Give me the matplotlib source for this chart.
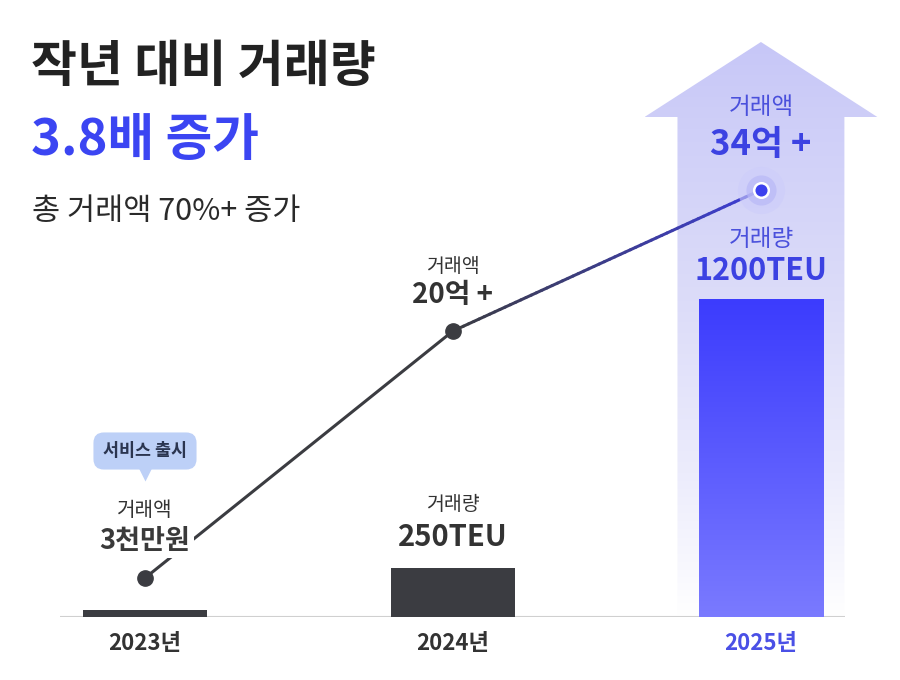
import numpy as np
import matplotlib.pyplot as plt
from matplotlib.colors import LinearSegmentedColormap, to_rgb
from matplotlib.collections import LineCollection
from matplotlib.patches import Polygon

plt.rcParams['font.family'] = ['Noto Sans CJK KR', 'DejaVu Sans']

# --- data (display heights, baseline = 0) ---
years = ['2023년', '2024년', '2025년']
bar_height = [7, 49, 318]            # 거래량 bars
line_height = [39, 286, 427]         # 거래액 line points
amount_labels = ['3천만원', '20억 +', '34억 +']
volume_labels = [None, '250TEU', '1200TEU']

DARK = '#3b3c41'
BLUE = '#3c41ee'
TEXT = '#333333'

fig = plt.figure(figsize=(9, 6.8), dpi=100)
fig.patch.set_facecolor('white')

# axes span the full width; 1 y-unit = 1 px, baseline at 63 px from bottom
ax = fig.add_axes([0, 63 / 680, 1, 587 / 680])
x = np.arange(len(years))
x_left, x_right = -0.276, 2.273   # ends of the baseline

# big arrow behind 2025
cx = x[2]
body, head, shoulder, tip = 0.271, 0.378, 500, 575
arrow = Polygon([(cx - body, 0), (cx - body, shoulder), (cx - head, shoulder), (cx, tip),
                 (cx + head, shoulder), (cx + body, shoulder), (cx + body, 0)],
                closed=True, fc='none', ec='none')
ax.add_patch(arrow)
arrow_cmap = LinearSegmentedColormap.from_list(
    'arrow', [(0, '#ffffff'), (0.08, '#f8f8fe'), (0.25, '#ececfc'),
              (0.55, '#dcdcf9'), (0.85, '#cfcff8'), (1, '#c7c7f7')])
grad = np.linspace(0, 1, 256).reshape(-1, 1)
im = ax.imshow(grad, cmap=arrow_cmap, origin='lower', aspect='auto',
               extent=[cx - head, cx + head, 0, tip], zorder=0)
im.set_clip_path(arrow)

# bars
bars = ax.bar(x, bar_height, width=0.405, color=[DARK, DARK, 'none'], zorder=2)
bar_cmap = LinearSegmentedColormap.from_list('bar', ['#7a7aff', '#3c3cfd'])
im2 = ax.imshow(grad, cmap=bar_cmap, origin='lower', aspect='auto',
                extent=[cx - 0.2025, cx + 0.2025, 0, bar_height[2]], zorder=2)
im2.set_clip_path(bars[2])

# baseline
ax.hlines(0, x_left, x_right, color='#d0d0d0', lw=1.5, zorder=1)

# line: first segment dark, second one fading dark -> blue
ax.plot(x[:2], line_height[:2], color=DARK, lw=2.2, zorder=3, solid_capstyle='round')
t = np.linspace(0, 1, 60)
px = x[1] + (x[2] - x[1]) * t
py = line_height[1] + (line_height[2] - line_height[1]) * t
segs = np.stack([np.column_stack([px[:-1], py[:-1]]), np.column_stack([px[1:], py[1:]])], axis=1)
c0, c1 = np.array(to_rgb(DARK)), np.array(to_rgb('#3e3ed8'))
cols = [tuple(c0 + (c1 - c0) * v) for v in t[:-1]]
ax.add_collection(LineCollection(segs, colors=cols, lw=2.2, zorder=3, capstyle='round'))

ax.plot(x[:2], line_height[:2], 'o', color=DARK, ms=11, zorder=4)
ax.scatter([x[2]], [line_height[2]], s=1150, color='#cdcdfa', alpha=0.6, lw=0, zorder=3)
ax.scatter([x[2]], [line_height[2]], s=470, color='#b9b9f7', alpha=0.7, lw=0, zorder=3)
ax.scatter([x[2]], [line_height[2]], s=110, color=BLUE, edgecolor='white', lw=1.8, zorder=5)


def label(xi, yi, dy, s, size, color, weight='normal', **kw):
    ax.annotate(s, (xi, yi), xytext=(0, dy), textcoords='offset pixels',
                ha='center', va='center', fontsize=size, color=color,
                fontweight=weight, zorder=6, **kw)


# 2023
label(x[0], line_height[0], 37, amount_labels[0], 19.5, '#3a3a3a', 'bold',
      bbox=dict(boxstyle='square,pad=0.12', fc='white', ec='none'))
label(x[0], line_height[0], 67, '거래액', 14.5, TEXT)
label(x[0], line_height[0], 127, '서비스 출시', 12.5, '#2b3550', 'bold',
      bbox=dict(boxstyle='round,pad=0.55,rounding_size=0.6', fc='#bdd0f7', ec='none'))
ax.plot([x[0]], [line_height[0] + 104], marker='v', ms=10, color='#bdd0f7', mec='none', zorder=5)

# 2024
label(x[1], line_height[1], 36, amount_labels[1], 20, TEXT, 'bold')
label(x[1], line_height[1], 65, '거래액', 14, TEXT)
label(x[1], bar_height[1], 31, volume_labels[1], 21, TEXT, 'bold')
label(x[1], bar_height[1], 63, '거래량', 14, TEXT)

# 2025
label(x[2], line_height[2], 46, amount_labels[2], 25, '#3c42e2', 'bold')
label(x[2], line_height[2], 83, '거래액', 17, '#4a50dc')
label(x[2], bar_height[2], 28, volume_labels[2], 22, '#3c42e2', 'bold')
label(x[2], bar_height[2], 60, '거래량', 17, '#4a50dc')

# x labels
ax.set_xticks(x)
ax.set_xticklabels(years, fontsize=16, fontweight='bold')
for tl, c in zip(ax.get_xticklabels(), [TEXT, TEXT, '#4a50e6']):
    tl.set_color(c)
ax.tick_params(axis='x', length=0, pad=11)
ax.set_yticks([])
ax.set_xlim(x_left - 60 / 308, x_right + 55 / 308)
ax.set_ylim(0, 587)
for sp in ax.spines.values():
    sp.set_visible(False)
ax.patch.set_alpha(0)

# headline
fig.text(31 / 900, 1 - 68 / 680, '작년 대비 거래량', fontsize=36, fontweight='bold',
         color='#222222', va='center', ha='left')
fig.text(31 / 900, 1 - 140 / 680, '3.8배 증가', fontsize=36.5, fontweight='bold',
         color='#3b45f2', va='center', ha='left')
fig.text(32 / 900, 1 - 212 / 680, '총 거래액 70%+ 증가', fontsize=22,
         color='#2a2a2a', va='center', ha='left')

fig.savefig('out.png', dpi=100, facecolor='white')
